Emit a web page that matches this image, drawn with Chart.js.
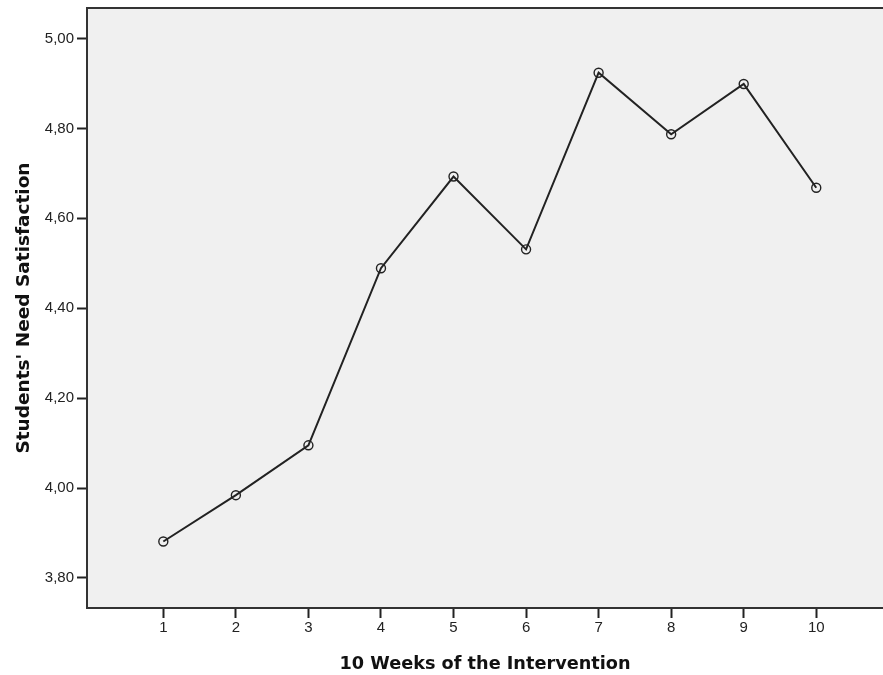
<!DOCTYPE html>
<html>
<head>
<meta charset="utf-8">
<script src="https://cdn.jsdelivr.net/npm/chart.js@4/dist/chart.umd.min.js"></script>
<style>
html,body{margin:0;padding:0;background:#fff;overflow:hidden;}
#wrap{width:883px;height:675px;}
canvas{display:block;}
</style>
</head>
<body>
<div id="wrap"><canvas id="c" width="883" height="675"></canvas></div>
<script>
const weeks = [1, 2, 3, 4, 5, 6, 7, 8, 9, 10];
const satisfaction = [3.881, 3.984, 4.095, 4.489, 4.693, 4.531, 4.924, 4.787, 4.899, 4.668];
const yTicks = [3.8, 4.0, 4.2, 4.4, 4.6, 4.8, 5.0];
const xTicks = [1, 2, 3, 4, 5, 6, 7, 8, 9, 10];

const plotBox = {
  id: 'plotBox',
  beforeDraw(chart) {
    const {ctx, chartArea: a} = chart;
    ctx.save();
    ctx.fillStyle = '#f0f0f0';
    ctx.fillRect(a.left, a.top, a.right - a.left, a.bottom - a.top);
    ctx.restore();
  },
  afterDraw(chart) {
    const {ctx, chartArea: a} = chart;
    ctx.save();
    ctx.strokeStyle = '#333';
    ctx.lineWidth = 2;
    ctx.beginPath();
    ctx.moveTo(a.right + 2, a.top);
    ctx.lineTo(a.left, a.top);
    ctx.lineTo(a.left, a.bottom);
    ctx.lineTo(a.right + 2, a.bottom);
    ctx.stroke();
    ctx.restore();
  }
};

new Chart(document.getElementById('c'), {
  type: 'line',
  data: {
    datasets: [{
      data: weeks.map((w, i) => ({x: w, y: satisfaction[i]})),
      borderColor: '#222',
      borderWidth: 2,
      pointRadius: 4.5,
      pointBorderWidth: 1.4,
      pointBorderColor: '#222',
      pointBackgroundColor: 'rgba(0,0,0,0)',
      tension: 0
    }]
  },
  options: {
    responsive: false,
    animation: false,
    layout: {autoPadding: false, padding: {top: 8, right: 0, left: 0, bottom: 0}},
    plugins: {legend: {display: false}, tooltip: {enabled: false}},
    scales: {
      x: {
        type: 'linear',
        min: -0.052,
        max: 10.92,
        afterBuildTicks: s => { s.ticks = xTicks.map(v => ({value: v})); },
        afterFit: s => { s.height = 67; s.paddingLeft = 0; s.paddingRight = 0; },
        grid: {drawOnChartArea: false, drawTicks: true, tickLength: 10, tickColor: '#222', tickWidth: 2},
        border: {display: false},
        ticks: {color: '#222', font: {family: 'Liberation Sans', size: 15}, padding: 1, maxRotation: 0, autoSkip: false},
        title: {display: true, text: '10 Weeks of the Intervention', color: '#111',
          font: {family: 'DejaVu Sans', size: 17.7, weight: 'bold'}, padding: {top: 1, bottom: 0}}
      },
      y: {
        type: 'linear',
        min: 3.733,
        max: 5.068,
        afterBuildTicks: s => { s.ticks = yTicks.map(v => ({value: v})); },
        afterFit: s => { s.width = 87; s.paddingTop = 0; s.paddingBottom = 0; },
        grid: {drawOnChartArea: false, drawTicks: true, tickLength: 10, tickColor: '#222', tickWidth: 2},
        border: {display: false},
        ticks: {color: '#222', font: {family: 'Liberation Sans', size: 15}, padding: 3,
          callback: v => v.toFixed(2).replace('.', ',')},
        title: {display: true, text: "Students' Need Satisfaction", color: '#111',
          font: {family: 'DejaVu Sans', size: 18.5, weight: 'bold'}, padding: {top: 13, bottom: 0}}
      }
    }
  },
  plugins: [plotBox]
});
</script>
</body>
</html>
